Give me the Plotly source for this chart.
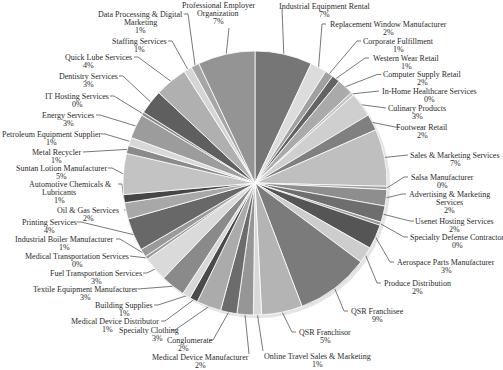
import math
import plotly.graph_objects as go

# ---------------- data ----------------
names = [
    "Industrial Equipment Rental", "Replacement Window Manufacturer", "Corporate Fulfillment",
    "Western Wear Retail", "Computer Supply Retail", "In-Home Healthcare Services",
    "Culinary Products", "Footwear Retail", "Sales & Marketing Services", "Salsa Manufacturer",
    "Advertising & Marketing<br>Services", "Usenet Hosting Services", "Specialty Defense Contractor",
    "Aerospace Parts Manufacturer", "Produce Distribution", "QSR Franchisee", "QSR Franchisor",
    "Online Travel Sales & Marketing", "Medical Device Manufacturer", "Conglomerate",
    "Specialty Clothing", "Medical Device Distributor", "Building Supplies",
    "Textile Equipment Manufacturer", "Fuel Transportation Services",
    "Medical Transportation Services", "Industrial Boiler Manufacturer", "Printing Services",
    "Oil & Gas Services", "Automotive Chemicals &<br>Lubricants", "Suntan Lotion Manufacturer",
    "Metal Recycler", "Petroleum Equipment Supplier", "Energy Services", "IT Hosting Services",
    "Dentistry Services", "Quick Lube Services", "Staffing Services",
    "Data Processing & Digital<br>Marketing", "Professional Employer<br>Organization",
]
values = [7, 2, 1, 1, 2, 0.4, 3, 2, 7, 0.4,
          2, 2, 0.4, 3, 2, 9, 5, 1, 2, 2,
          3, 1, 1, 3, 3, 0.4, 1, 4, 2, 1,
          5, 1, 1, 3, 0.4, 3, 4, 1, 1, 7]

# ---------------- styles / layout ----------------
colors = ["#767676", "#dcdcdc", "#a0a0a0", "#636363", "#aaaaaa", "#c4c4c4", "#cfcfcf", "#808080",
          "#bfbfbf", "#a2a2a2", "#8e8e8e", "#6e6e6e", "#9a9a9a", "#555555", "#cdcdcd", "#7b7b7b",
          "#b4b4b4", "#d8d8d8", "#969696", "#6c6c6c", "#ababab", "#4a4a4a", "#d8d8d8", "#8a8a8a",
          "#dadada", "#9c9c9c", "#9a9a9a", "#686868", "#a8a8a8", "#464646", "#c3c3c3", "#8a8a8a",
          "#d8d8d8", "#9c9c9c", "#8a8a8a", "#5f5f5f", "#b0b0b0", "#d5d5d5", "#a6a6a6", "#949494"]

# label centre x (of the lower lines) and first-line y (pixels)
label_x = [324, 388, 398, 406, 422, 429, 417, 422, 455, 442,
           449, 454, 457, 446, 417, 377, 325, 317, 200, 183,
           157, 107, 124, 85, 96, 77, 64, 49, 88, 59,
           61, 56, 51, 68, 77, 88, 88, 139, 140, 218]
# horizontal shift of the first line relative to label_x
first_dx = [0, 0, 0, 0, 0, 0, 0, 0, 0, 0,
            0, 0, 0, 0, 0, 0, 0, 0, 0, 7,
            -8, 8, 0, 0, 0, 0, 0, 0, 0, 11,
            0, 0, 0, 0, 0, 0, 10, 0, 0, 0]
label_y = [6, 24, 41, 58, 74.5, 91, 108, 127, 155, 177,
           194, 221, 237, 262, 283, 311, 332, 356, 357, 340,
           330, 321, 305, 289, 273, 256, 239, 222, 210, 184,
           168, 152, 134, 115, 96, 76, 57, 41, 14, 5]
# leader-line attach point on the label side (pixels) and elbow length
attach_x = [282, 326, 361, 369, 381, 379, 386, 399, 408, 408,
            406, 414, 408, 394, 381, 348, 296, 263, 249, 209,
            171, 161, 154, 138, 143, 130, 116, 77, 124, 118,
            108, 83, 101, 96, 110, 119, 134, 168, 184, 229]
attach_y = [8, 24, 41, 58, 74.5, 91, 108, 127, 155, 177,
            194, 221, 237, 262, 283, 311, 332, 351, 354, 340,
            330, 321, 305, 289, 273, 256, 239, 222, 210, 184,
            168, 152, 134, 115, 96, 76, 57, 41, 14, 28]
elbow = [0, 4, 4, 4, 4, 4, 4, 4, 4, 4,
         4, 4, 4, 4, 4, 4, 4, 0, 0, 4,
         4, 4, 4, 4, 4, 4, 4, 4, 4, 4,
         4, 4, 4, 4, 4, 4, 4, 4, 4, 0]

W, H = 503, 370
CX, CY, R = 255, 183, 132
LS = 8.2
FONT = "Liberation Serif, Times New Roman, serif"

total = sum(values)
pct = ["%d%%" % round(v / total * 100) for v in values]

fig = go.Figure()

fig.add_trace(go.Pie(
    values=values, labels=[n.replace("<br>", " ") for n in names],
    sort=False, direction="clockwise", rotation=0,
    marker=dict(colors=colors, line=dict(color="white", width=0.8)),
    textinfo="none", hoverinfo="label+percent", showlegend=False,
    domain=dict(x=[(CX - R) / W, (CX + R) / W], y=[1 - (CY + R) / H, 1 - (CY - R) / H]),
))

# leader lines
lx, ly = [], []
cum = 0.0
for i, v in enumerate(values):
    th = 2 * math.pi * (cum + v / 2) / total
    cum += v
    ex, ey = CX + R * math.sin(th), CY - R * math.cos(th)
    ax_, ay_ = attach_x[i], attach_y[i]
    side = 1 if ax_ > CX else -1
    bx = ax_ - side * elbow[i]
    lx += [ex, bx, ax_, None]
    ly += [ey, ay_, ay_, None]
fig.add_trace(go.Scatter(x=lx, y=ly, mode="lines", hoverinfo="skip", showlegend=False,
                         line=dict(color="#555555", width=0.8)))

annotations = []
for i, n in enumerate(names):
    lines = n.split("<br>") + [pct[i]]
    for k, t in enumerate(lines):
        annotations.append(dict(x=label_x[i] + (first_dx[i] if k == 0 else 0),
                                y=label_y[i] + k * LS, xref="x", yref="y",
                                text=t, showarrow=False, xanchor="center", yanchor="middle",
                                borderpad=0,
                                font=dict(family=FONT, size=8, color="#2a2a2a")))

fig.update_layout(
    width=W, height=H, autosize=False,
    margin=dict(l=0, r=0, t=0, b=0),
    paper_bgcolor="white", plot_bgcolor="white",
    xaxis=dict(range=[0, W], visible=False, fixedrange=True, domain=[0, 1]),
    yaxis=dict(range=[H, 0], visible=False, fixedrange=True, domain=[0, 1]),
    annotations=annotations,
    shapes=[dict(type="circle", xref="x", yref="y", layer="below",
                 x0=CX - R + 2, x1=CX + R + 3, y0=CY - R + 2, y1=CY + R + 3,
                 fillcolor="#e4e4e4", line=dict(width=0))],
)

fig.write_html("out.html", config={"displayModeBar": False},
               post_script="document.body.style.margin='0';document.body.style.overflow='hidden';")
